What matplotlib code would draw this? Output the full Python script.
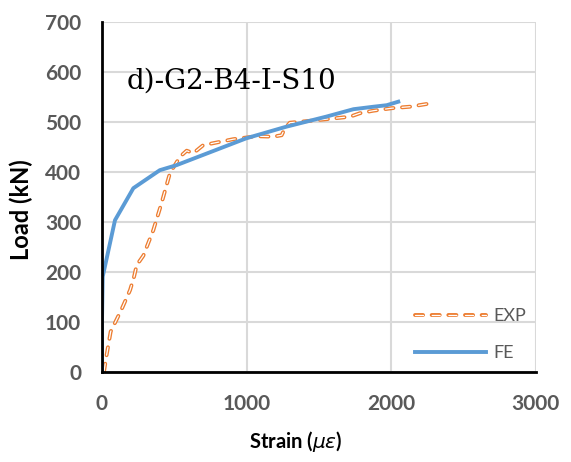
import matplotlib.pyplot as plt

# FE curve (strain in micro-strain, load in kN)
fe_strain = [0, 0, 5, 90, 217, 400, 515, 1000, 1275, 1550, 1740, 1880, 1970, 2050]
fe_load = [0, 100, 190, 303, 367, 403, 413, 467, 490, 510, 525, 530, 533, 540]

# experimental curve
exp_strain = [14, 30, 60, 136, 194, 222, 240, 286, 355, 412, 470, 540, 586, 632,
              700, 908, 1070, 1185, 1243, 1266, 1300, 1485, 1716, 1785, 1877, 2004, 2131, 2280]
exp_load = [0, 30, 80, 125, 163, 190, 213, 232, 283, 337, 397, 430, 442, 437,
            453, 465, 471, 470, 473, 487, 498, 503, 510, 517, 522, 527, 530, 537]

blue = "#5B9BD5"
orange = "#ED7D31"
grey = "#595959"

plt.rcParams["font.family"] = ["Lato", "DejaVu Sans"]
plt.rcParams["mathtext.fontset"] = "dejavusans"
plt.rcParams["lines.scale_dashes"] = False

fig = plt.figure(figsize=(5.71, 4.62), dpi=100)
ax = fig.add_axes([0.1786, 0.1955, 0.7594, 0.7575])

# EXP drawn as an outlined dashed line (orange edge, white core)
dash = (0, (5.8, 6.2))
outer = dict(color=orange, lw=2.8, linestyle=dash, dash_capstyle="round")
inner = dict(color="white", lw=0.9, linestyle=dash, dash_capstyle="round")
ax.plot(exp_strain, exp_load, zorder=3, **outer)
ax.plot(exp_strain, exp_load, zorder=4, **inner)
ax.plot(fe_strain, fe_load, color=blue, lw=2.8, zorder=5)

# legend proxies
l1a, = ax.plot([], [], **outer)
l1b, = ax.plot([], [], **inner)
l2, = ax.plot([], [], color=blue, lw=2.8)
leg = ax.legend([(l1a, l1b), l2], ["EXP", "FE"], loc="lower left",
                bbox_to_anchor=(0.685, -0.017), frameon=False, fontsize=13,
                handlelength=3.9, labelspacing=1.17, handletextpad=0.4)
for t in leg.get_texts():
    t.set_color(grey)

ax.set_xlim(0, 3000)
ax.set_ylim(0, 700)
ax.set_xticks([0, 1000, 2000, 3000])
ax.set_yticks(range(0, 701, 100))
ax.grid(True, color="#D9D9D9", lw=1.5)
ax.set_axisbelow(True)
for s in ["top", "right"]:
    ax.spines[s].set_visible(False)
for s in ["left", "bottom"]:
    ax.spines[s].set_linewidth(2)
    ax.spines[s].set_color("black")
    ax.spines[s].set_zorder(6)
ax.tick_params(axis="y", length=0, labelsize=15, labelcolor=grey, pad=15)
ax.tick_params(axis="x", length=0, labelsize=15, labelcolor=grey, pad=16)
for lab in ax.get_xticklabels() + ax.get_yticklabels():
    lab.set_fontweight("bold")

ax.set_ylabel("Load (kN)", fontsize=17, fontweight="bold")
ax.yaxis.set_label_coords(-0.16, 0.462)
ax.set_xlabel(r"Strain ($\mu\varepsilon$)", fontsize=14.5, fontweight="bold")
ax.xaxis.set_label_coords(0.448, -0.165)

ax.text(170, 581, "d)-G2-B4-I-S10", fontsize=20, family="DejaVu Serif", va="center")

fig.savefig("out.png", dpi=100)
